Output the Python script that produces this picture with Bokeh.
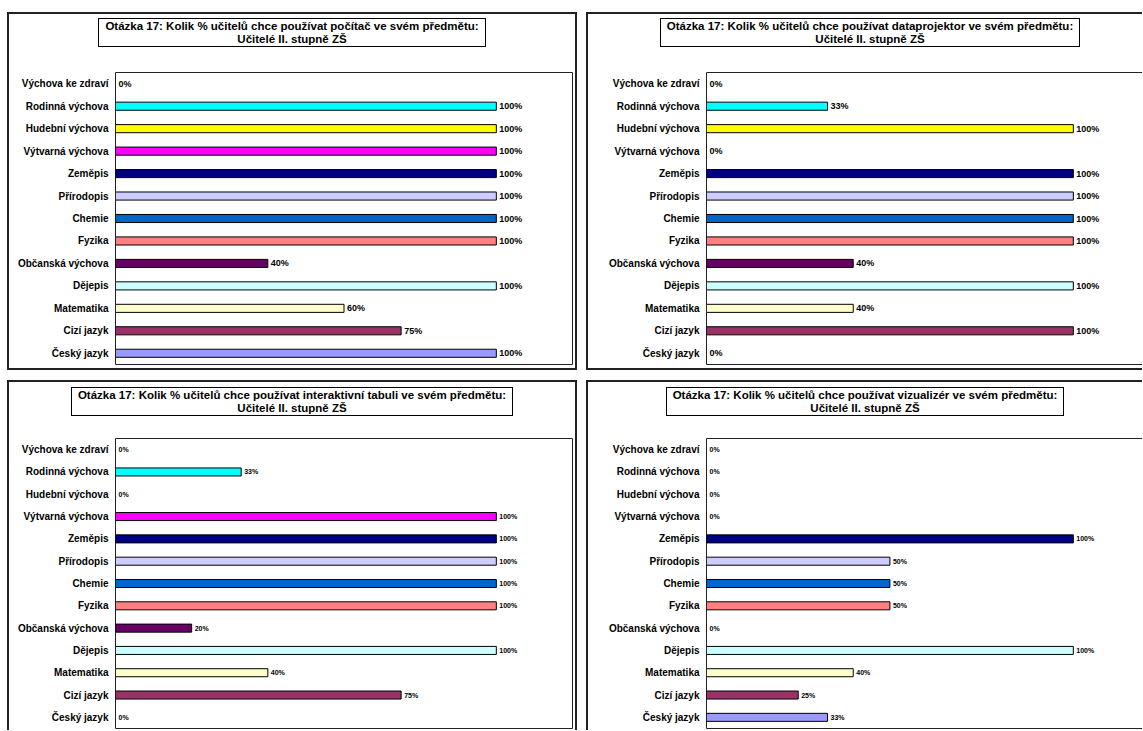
from bokeh.plotting import figure
from bokeh.models import ColumnDataSource, Range1d, FactorRange, Div
from bokeh.layouts import row, column
from bokeh.embed import file_html
from bokeh.resources import INLINE
from bokeh.core.properties import value

# Subjects as listed top to bottom in every panel
subjects = [
    "Výchova ke zdraví", "Rodinná výchova", "Hudební výchova", "Výtvarná výchova",
    "Zeměpis", "Přírodopis", "Chemie", "Fyzika", "Občanská výchova",
    "Dějepis", "Matematika", "Cizí jazyk", "Český jazyk",
]
subject_colors = [
    "#800080", "#00FFFF", "#FFFF00", "#FF00FF",
    "#000080", "#CCCCFF", "#0066CC", "#FF8080", "#660066",
    "#CCFFFF", "#FFFFCC", "#993366", "#9999FF",
]

# Share of teachers (%) who want to use each device in their subject
pocitac = [0, 100, 100, 100, 100, 100, 100, 100, 40, 100, 60, 75, 100]
dataprojektor = [0, 33, 100, 0, 100, 100, 100, 100, 40, 100, 40, 100, 0]
interaktivni_tabule = [0, 33, 0, 100, 100, 100, 100, 100, 20, 100, 40, 75, 0]
vizualizer = [0, 0, 0, 0, 100, 50, 50, 50, 0, 100, 40, 25, 33]

devices = ["počítač", "dataprojektor", "interaktivní tabuli", "vizualizér"]

FONT = "Liberation Sans"
OUTER = "2px solid #222222"


def heading(device, width, height, sides, box_top, shift):
    """Boxed two-line question heading, centred across the panel."""
    html = (
        f'<div style="display:inline-block; position:relative; left:{shift}px; '
        f'margin-top:{box_top}px; padding:1px 6px; border:1px solid #000; '
        f"background:#fff; font-family:'{FONT}'; font-weight:bold; "
        f'font-size:11.5px; line-height:12.5px; color:#000; text-align:center;">'
        f"Otázka 17: Kolik % učitelů chce používat {device} ve svém předmětu:<br>"
        f"Učitelé II. stupně ZŠ</div>"
    )
    styles = {"text-align": "center", "background": "#fff", "overflow": "hidden"}
    styles.update({s: OUTER for s in sides})
    return Div(text=html, width=width, height=height, margin=0, styles=styles)


def chart(values, width, height, left, right_pad, bottom_pad, x_end, label_px, sides):
    p = figure(
        width=width, height=height,
        y_range=FactorRange(factors=list(reversed(subjects))),
        x_range=Range1d(0, x_end),
        output_backend="svg", toolbar_location=None, tools="",
        min_border_left=left, min_border_right=right_pad,
        min_border_top=1, min_border_bottom=bottom_pad,
        background_fill_color="white", border_fill_color="white",
        outline_line_color="#222222", outline_line_width=1,
    )
    p.margin = 0
    p.styles = {s: OUTER for s in sides}

    src = ColumnDataSource(dict(
        subject=subjects,
        value=values,
        color=subject_colors,
        edge_alpha=[1.0 if v > 0 else 0.0 for v in values],
        label=[f"{v}%" for v in values],
    ))
    p.hbar(y="subject", left=0, right="value", height=0.36, source=src,
           fill_color="color", line_color="black", line_width=1,
           line_alpha="edge_alpha", fill_alpha="edge_alpha")
    p.text(x="value", y="subject", text="label", source=src,
           x_offset=3, text_baseline="middle", text_align="left",
           text_font=value(FONT), text_font_size=label_px,
           text_font_style="bold", text_color="black")

    p.xaxis.visible = False
    p.xgrid.visible = False
    p.ygrid.visible = False
    ax = p.yaxis[0]
    ax.axis_line_color = None
    ax.major_tick_line_color = None
    ax.minor_tick_line_color = None
    ax.major_tick_out = 0
    ax.major_tick_in = 0
    ax.major_label_standoff = 7
    ax.major_label_text_font = FONT
    ax.major_label_text_font_size = "10px"
    ax.major_label_text_font_style = "bold"
    ax.major_label_text_color = "black"
    return p


# top row: full boxes on the left, right-hand panels run past the page edge
tl = column(
    heading(devices[0], 570, 59, ["border-top", "border-left", "border-right"], 4, 0),
    chart(pocitac, 570, 299, 106, 7, 6, 120, "9px",
          ["border-left", "border-right", "border-bottom"]),
    margin=(12, 0, 0, 7),
)
tr = column(
    heading(devices[1], 556, 59, ["border-top", "border-left"], 4, 5),
    chart(dataprojektor, 556, 299, 118, 0, 6, 119.4, "9px",
          ["border-left", "border-bottom"]),
    margin=(12, 0, 0, 9),
)
# bottom row: panels run past the lower page edge
bl = column(
    heading(devices[2], 570, 57, ["border-top", "border-left", "border-right"], 5, 0),
    chart(interaktivni_tabule, 570, 293, 106, 7, 2, 120, "7px",
          ["border-left", "border-right"]),
    margin=(10, 0, 0, 7),
)
br = column(
    heading(devices[3], 556, 57, ["border-top", "border-left"], 5, 0),
    chart(vizualizer, 556, 293, 118, 0, 2, 119.4, "7px", ["border-left"]),
    margin=(10, 0, 0, 9),
)

layout = column(row(tl, tr), row(bl, br))

with open("out.html", "w") as f:
    f.write(file_html(layout, INLINE))
